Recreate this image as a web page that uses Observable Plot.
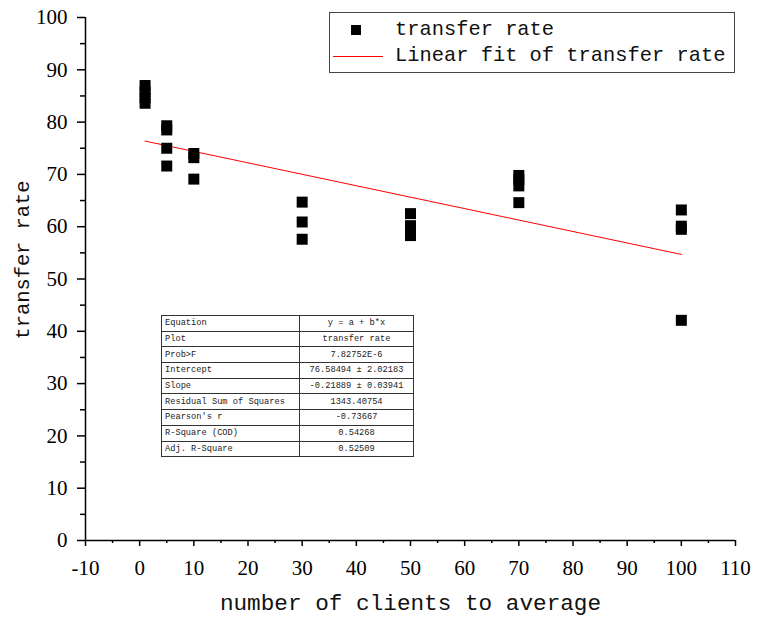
<!DOCTYPE html>
<html>
<head>
<meta charset="utf-8">
<script src="https://cdn.jsdelivr.net/npm/d3@7"></script>
<script src="https://cdn.jsdelivr.net/npm/@observablehq/plot@0.6"></script>
<style>
  html, body { margin: 0; padding: 0; background: #fff; }
  #wrap { position: relative; width: 762px; height: 618px; }
  #legend { position: absolute; left: 329px; top: 12px; width: 404px; height: 59px; border: 1px solid #444; background: #fff; font-family: "Liberation Mono", monospace; font-size: 20.4px; color: #111; }
  #legend .row { position: absolute; left: 0; height: 26px; line-height: 26px; white-space: nowrap; }
  #legend .sym { position: absolute; left: 21px; top: 8px; width: 10px; height: 10px; background: #000; }
  #legend .line { position: absolute; left: 3px; top: 13px; width: 50px; height: 1px; background: #ff0000; }
  #legend .txt { position: absolute; left: 65px; }
  #stats { position: absolute; left: 161px; top: 315px; border-collapse: collapse; font-family: "Liberation Mono", monospace; font-size: 8.7px; color: #222; background: #fff; }
  #stats td { border: 1px solid #333; height: 14.7px; padding: 0 3px; line-height: 14px; white-space: nowrap; }
  #stats td.k { width: 131px; text-align: left; }
  #stats td.v { width: 107px; text-align: center; }
</style>
</head>
<body>
<div id="wrap"></div>
<script>
// ---- data ----
const clients = [1, 1, 1, 1, 5, 5, 5, 5, 10, 10, 10, 30, 30, 30, 50, 50, 50, 50, 70, 70, 70, 70, 100, 100, 100, 100];
const rate    = [87.0, 85.8, 84.7, 83.6, 79.3, 78.5, 75.0, 71.6, 74.0, 73.2, 69.1, 64.7, 60.9, 57.6, 62.5, 60.2, 59.2, 58.3, 69.8, 69.0, 67.8, 64.6, 63.2, 60.1, 59.5, 42.1];
const fitX = [1, 100];
const fitY = [76.37, 54.70];
const xTicks = [-10, 0, 10, 20, 30, 40, 50, 60, 70, 80, 90, 100, 110];
const xMinor = [-5, 5, 15, 25, 35, 45, 55, 65, 75, 85, 95, 105];
const yTicks = [0, 10, 20, 30, 40, 50, 60, 70, 80, 90, 100];
const yMinor = [5, 15, 25, 35, 45, 55, 65, 75, 85, 95];
const statKeys = ["Equation", "Plot", "Prob>F", "Intercept", "Slope", "Residual Sum of Squares", "Pearson's r", "R-Square (COD)", "Adj. R-Square"];
const statVals = ["y = a + b*x", "transfer rate", "7.82752E-6", "76.58494 \u00b1 2.02183", "-0.21889 \u00b1 0.03941", "1343.40754", "-0.73667", "0.54268", "0.52509"];
const legendLabels = ["transfer rate", "Linear fit of transfer rate"];
const xTitle = "number of clients to average";
const yTitle = "transfer rate";

const points = clients.map((c, i) => ({x: c, y: rate[i]}));
const fit = fitX.map((x, i) => ({x, y: fitY[i]}));

const tickFont = "Liberation Serif, serif";
const titleFont = "Liberation Mono, monospace";

const chart = Plot.plot({
  width: 762,
  height: 618,
  marginLeft: 85,
  marginRight: 27,
  marginTop: 17,
  marginBottom: 78,
  style: {background: "#fff", color: "#000", overflow: "visible"},
  x: {domain: [-10, 110]},
  y: {domain: [0, 100]},
  marks: [
    Plot.axisX({ticks: xTicks, tickSize: 6, tickPadding: 14, tickFormat: d => String(d), fontSize: 21, fontFamily: tickFont, label: null, strokeWidth: 1.5}),
    Plot.axisX({ticks: xMinor, tickSize: 3, tickFormat: () => "", label: null, strokeWidth: 1.5}),
    Plot.axisY({ticks: yTicks, tickSize: 8, tickPadding: 10, tickFormat: d => String(d), fontSize: 21, fontFamily: tickFont, label: null, strokeWidth: 1.5}),
    Plot.axisY({ticks: yMinor, tickSize: 5, tickFormat: () => "", label: null, strokeWidth: 1.5}),
    Plot.ruleY([0], {stroke: "#000", strokeWidth: 1.5}),
    Plot.ruleX([-10], {stroke: "#000", strokeWidth: 1.5}),
    Plot.line(fit, {x: "x", y: "y", stroke: "#ff0000", strokeWidth: 1}),
    Plot.dot(points, {x: "x", y: "y", symbol: "square", r: 6.2, fill: "#000", stroke: "none"}),
    Plot.text([xTitle], {frameAnchor: "bottom", dy: 69, fontSize: 22.7, fontFamily: titleFont, fill: "#111"}),
    Plot.text([yTitle], {frameAnchor: "left", textAnchor: "middle", dx: -63, dy: -19, rotate: -90, fontSize: 20.4, fontFamily: titleFont, fill: "#111"})
  ]
});

const wrap = document.getElementById("wrap");
wrap.appendChild(chart);

// legend
const legend = document.createElement("div");
legend.id = "legend";
legend.innerHTML =
  `<div class="row" style="top:4px;width:100%"><span class="sym"></span><span class="txt">${legendLabels[0]}</span></div>` +
  `<div class="row" style="top:30px;width:100%"><span class="line"></span><span class="txt">${legendLabels[1]}</span></div>`;
wrap.appendChild(legend);

// stats table
const table = document.createElement("table");
table.id = "stats";
statKeys.forEach((k, i) => {
  const tr = document.createElement("tr");
  const a = document.createElement("td"); a.className = "k"; a.textContent = k;
  const b = document.createElement("td"); b.className = "v"; b.textContent = statVals[i];
  tr.appendChild(a); tr.appendChild(b);
  table.appendChild(tr);
});
wrap.appendChild(table);
</script>
</body>
</html>
